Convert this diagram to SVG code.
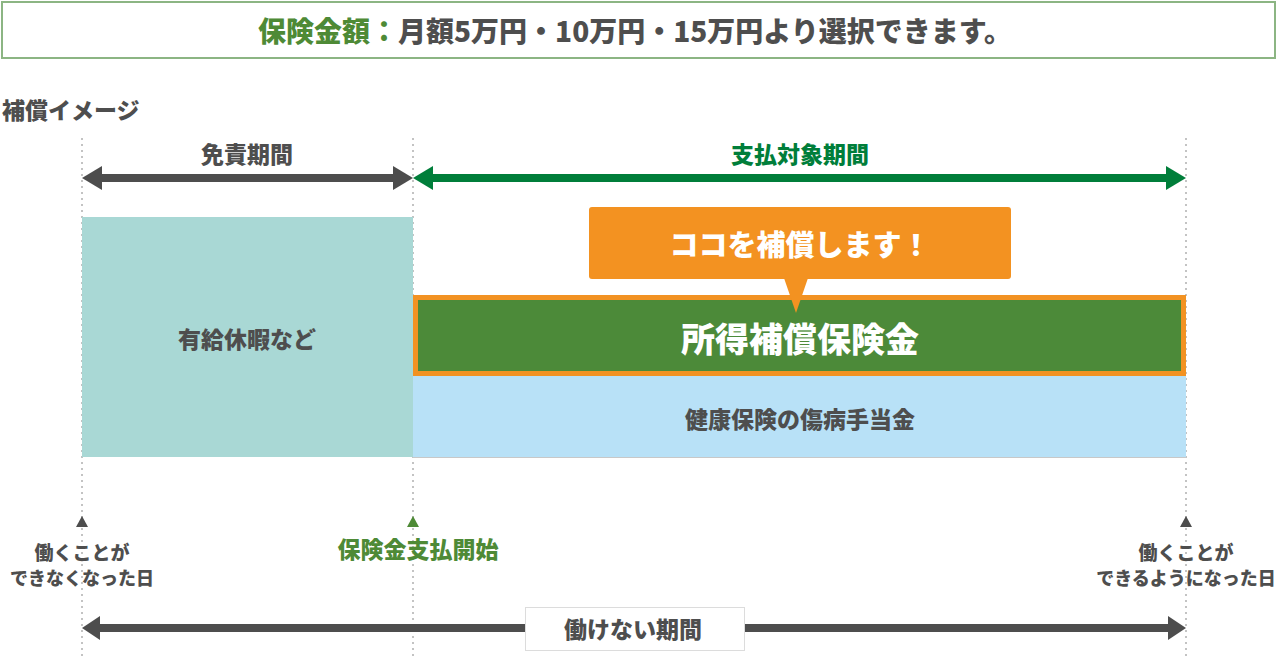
<svg xmlns="http://www.w3.org/2000/svg" width="1280" height="658" viewBox="0 0 1280 658">
<style>
text{font-family:"Noto Sans CJK JP","Noto Sans",sans-serif;font-weight:900;text-anchor:middle;dominant-baseline:central}
.g{fill:#4e4e4e}
.dot{stroke:#b0b0b0;stroke-width:1.5;stroke-dasharray:2 4;fill:none}
.dark{fill:#4d4d4d}
.grn{fill:#007e3a}
</style>
<rect width="1280" height="658" fill="#fff"/>
<g id="header">
<rect x="2" y="2" width="1273" height="56" fill="#fff" stroke="#8cb583" stroke-width="2"/>
<text x="635" y="30" font-size="28"><tspan fill="#4e8a36">保険金額：</tspan><tspan fill="#4e4e4e">月額5万円・10万円・15万円より選択できます。</tspan></text>
</g>
<text x="2" y="109" font-size="23" class="g" style="text-anchor:start">補償イメージ</text>
<g id="guides">
<line x1="82" y1="138" x2="82" y2="658" class="dot"/>
<line x1="413" y1="138" x2="413" y2="658" class="dot"/>
<line x1="1186" y1="138" x2="1186" y2="658" class="dot"/>
</g>
<g id="blocks">
<g id="paid-leave">
<rect x="82" y="217" width="331" height="240" fill="#a9d8d5"/>
<text x="247" y="338" font-size="23" class="g">有給休暇など</text>
</g>
<g id="sickness-allowance">
<rect x="413" y="376" width="773" height="81" fill="#b8e1f7"/>
<line x1="413" y1="457.5" x2="1186" y2="457.5" stroke="#c8c8c8" stroke-width="1"/>
<text x="800" y="418" font-size="23" class="g">健康保険の傷病手当金</text>
</g>
<g id="income-insurance">
<rect x="415.5" y="297.5" width="768" height="76" fill="#4c8a39" stroke="#f29222" stroke-width="5"/>
<text x="800" y="337" font-size="34" fill="#fff">所得補償保険金</text>
</g>
<g id="callout">
<rect x="589" y="207" width="422" height="72" rx="3" fill="#f39221"/>
<polygon points="784,278 808,278 796,313" fill="#f39221"/>
<text x="800" y="243" font-size="29" fill="#fff">ココを補償します！</text>
</g>
</g>
<g id="connectors">
<g id="exempt-arrow">
<rect x="100" y="174" width="295" height="8" class="dark"/>
<polygon points="82,178 102,166 102,190" class="dark"/>
<polygon points="413,178 393,166 393,190" class="dark"/>
</g>
<g id="pay-arrow">
<rect x="431" y="174" width="737" height="8" class="grn"/>
<polygon points="413,178 433,166 433,190" class="grn"/>
<polygon points="1186,178 1166,166 1166,190" class="grn"/>
</g>
<g id="nowork-arrow">
<rect x="100" y="624" width="1068" height="8" class="dark"/>
<polygon points="82,628 100,616 100,640" class="dark"/>
<polygon points="1186,628 1168,616 1168,640" class="dark"/>
</g>
<polygon points="82,516 88,527 76,527" class="dark"/>
<polygon points="413,516 419,527 407,527" fill="#4e8a36"/>
<polygon points="1186,516 1192,527 1180,527" class="dark"/>
</g>
<g id="labels">
<text x="247" y="153" font-size="23" class="g">免責期間</text>
<text x="800" y="153" font-size="23" fill="#007e3a">支払対象期間</text>
<text x="82" y="551" font-size="19" class="g">働くことが</text>
<text x="82" y="577" font-size="18" class="g">できなくなった日</text>
<text x="418" y="548" font-size="23" fill="#4e8a36">保険金支払開始</text>
<text x="1186" y="551" font-size="19" class="g">働くことが</text>
<text x="1186" y="577" font-size="18" class="g">できるようになった日</text>
</g>
<g id="nowork-label">
<rect x="525.5" y="607.5" width="219" height="43" fill="#fff" stroke="#dcdcdc" stroke-width="1"/>
<text x="633" y="628" font-size="23" class="g">働けない期間</text>
</g>
</svg>
